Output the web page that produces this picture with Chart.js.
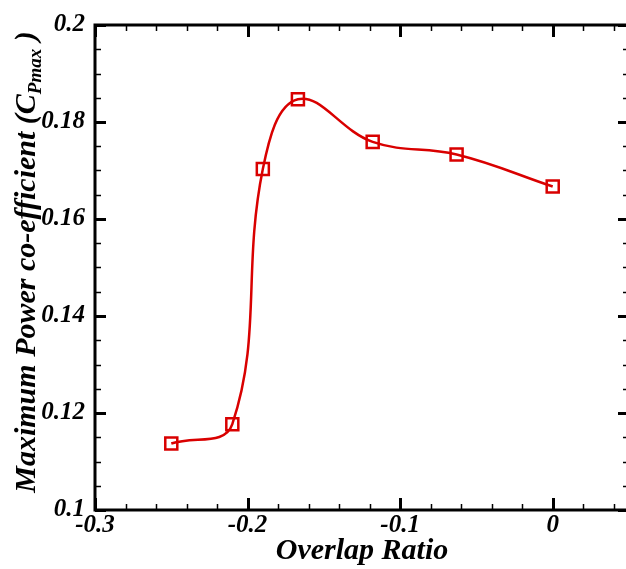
<!DOCTYPE html>
<html>
<head>
<meta charset="utf-8">
<script src="https://cdn.jsdelivr.net/npm/chart.js@4.4.1/dist/chart.umd.min.js"></script>
<style>
html, body { margin: 0; padding: 0; background: #fff; overflow: hidden; }
#wrap { width: 640px; height: 569px; }
</style>
</head>
<body>
<div id="wrap"><canvas id="cpChart" width="640" height="569"></canvas></div>
<script>
// data
const overlapRatio = [-0.25, -0.21, -0.19, -0.167, -0.118, -0.063, 0];
const cpMax = [0.1137, 0.1177, 0.1703, 0.1847, 0.1759, 0.1733, 0.1667];

const xMajorTicks = [-0.3, -0.2, -0.1, 0];
const xTickLabels = ['-0.3', '-0.2', '-0.1', '0'];
const yMajorTicks = [0.1, 0.12, 0.14, 0.16, 0.18, 0.2];
const yTickLabels = ['0.1', '0.12', '0.14', '0.16', '0.18', '0.2'];
const xMinorStep = 0.02;
const yMinorStep = 0.005;

const xTitle = 'Overlap Ratio';
const yTitle = 'Maximum Power co-efficient (C';
const yTitleSub = 'Pmax';

const red = '#d90000';
const serif = '"Liberation Serif", "Times New Roman", serif';

// frame + inward ticks on all four sides, Tecplot style
const framePlugin = {
    id: 'frame',
    afterDatasetsDraw(chart) {
        const ctx = chart.ctx;
        const a = chart.chartArea;
        const xs = chart.scales.x, ys = chart.scales.y;
        ctx.save();
        ctx.strokeStyle = '#000';

        // x ticks
        for (let i = 0; ; i++) {
            let v = xs.min + i * xMinorStep;
            if (v > xs.max + 1e-9) break;
            let major = xMajorTicks.some(m => Math.abs(m - v) < 1e-6);
            let px = Math.round(xs.getPixelForValue(v)) + 0.5;
            let len = major ? 12 : 6;
            ctx.lineWidth = major ? 3 : 1.5;
            ctx.beginPath();
            ctx.moveTo(px, a.bottom); ctx.lineTo(px, a.bottom - len);
            ctx.moveTo(px, a.top); ctx.lineTo(px, a.top + len);
            ctx.stroke();
        }
        // y ticks
        for (let i = 0; ; i++) {
            let v = ys.min + i * yMinorStep;
            if (v > ys.max + 1e-9) break;
            let major = yMajorTicks.some(m => Math.abs(m - v) < 1e-6);
            let py = Math.round(ys.getPixelForValue(v)) + 0.5;
            let len = major ? 11 : 6;
            ctx.lineWidth = major ? 3 : 1.5;
            ctx.beginPath();
            ctx.moveTo(a.left, py); ctx.lineTo(a.left + len, py);
            ctx.moveTo(a.right, py); ctx.lineTo(a.right - len, py);
            ctx.stroke();
        }

        ctx.lineWidth = 3;
        ctx.strokeRect(a.left, a.top, a.right - a.left, a.bottom - a.top);

        // y title with subscript
        ctx.fillStyle = '#000';
        ctx.textBaseline = 'alphabetic';
        const mainFont = 'italic bold 30px ' + serif;
        const subFont = 'italic bold 19px ' + serif;
        ctx.font = mainFont;
        const w1 = ctx.measureText(yTitle).width;
        const w3 = ctx.measureText(' )').width;
        ctx.font = subFont;
        const w2 = ctx.measureText(yTitleSub).width;
        const total = w1 + w2 + w3;
        ctx.translate(35, 262);
        ctx.rotate(-Math.PI / 2);
        let x0 = -total / 2;
        ctx.textAlign = 'left';
        ctx.font = mainFont;
        ctx.fillText(yTitle, x0, 0);
        ctx.font = subFont;
        ctx.fillText(yTitleSub, x0 + w1, 6);
        ctx.font = mainFont;
        ctx.fillText(' )', x0 + w1 + w2, 0);
        ctx.restore();
    }
};

const ctx = document.getElementById('cpChart').getContext('2d');
new Chart(ctx, {
    type: 'line',
    data: {
        datasets: [{
            data: overlapRatio.map((x, i) => ({ x: x, y: cpMax[i] })),
            borderColor: red,
            borderWidth: 2.5,
            backgroundColor: 'transparent',
            pointStyle: 'rect',
            pointRadius: 8.5,
            pointBorderWidth: 2.5,
            pointBorderColor: red,
            pointBackgroundColor: 'transparent',
            tension: 0.4,
            fill: false
        }]
    },
    options: {
        responsive: false,
        animation: false,
        layout: { padding: { top: 20, right: 9, left: 0, bottom: 0 } },
        plugins: {
            legend: { display: false },
            tooltip: { enabled: false }
        },
        scales: {
            x: {
                type: 'linear',
                min: -0.3,
                max: 0.05,
                grid: { display: false, drawTicks: false },
                border: { display: false },
                afterBuildTicks: s => { s.ticks = xMajorTicks.map(v => ({ value: v })); },
                afterFit: s => { s.height = 59; },
                ticks: {
                    autoSkip: false,
                    maxRotation: 0,
                    padding: 1,
                    color: '#000',
                    font: { family: serif, size: 25, style: 'italic', weight: 'bold' },
                    callback: v => xTickLabels[xMajorTicks.findIndex(m => Math.abs(m - v) < 1e-6)]
                },
                title: {
                    display: true,
                    text: xTitle,
                    color: '#000',
                    padding: { top: 0, bottom: 0 },
                    font: { family: serif, size: 30, style: 'italic', weight: 'bold' }
                }
            },
            y: {
                type: 'linear',
                min: 0.1,
                max: 0.2,
                grid: { display: false, drawTicks: false },
                border: { display: false },
                afterBuildTicks: s => { s.ticks = yMajorTicks.map(v => ({ value: v })); },
                afterFit: s => { s.width = 95; },
                ticks: {
                    autoSkip: false,
                    padding: 10,
                    color: '#000',
                    font: { family: serif, size: 25, style: 'italic', weight: 'bold' },
                    callback: v => yTickLabels[yMajorTicks.findIndex(m => Math.abs(m - v) < 1e-6)]
                }
            }
        }
    },
    plugins: [framePlugin]
});
</script>
</body>
</html>
